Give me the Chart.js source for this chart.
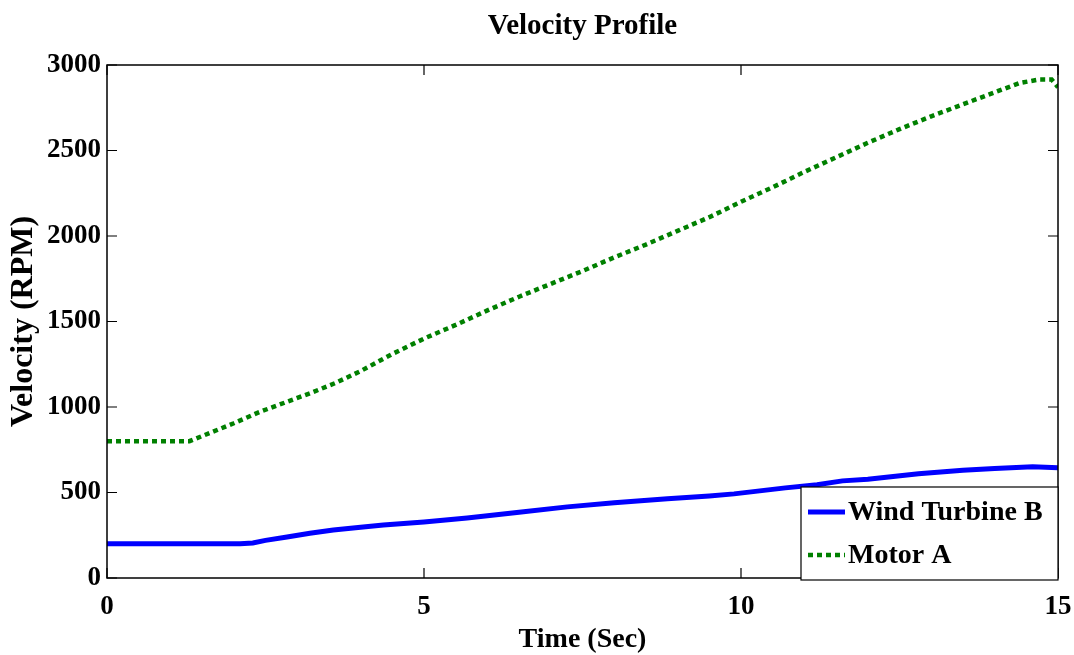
<!DOCTYPE html>
<html>
<head>
<meta charset="utf-8">
<script src="https://cdn.jsdelivr.net/npm/chart.js@4.4.0/dist/chart.umd.min.js"></script>
<style>
  body { margin: 0; background: #fff; }
  #wrap { width: 1074px; height: 655px; }
</style>
</head>
<body>
<div id="wrap"><canvas id="myChart"></canvas></div>
<script>
// values
const timeB = [0, 1, 2.1, 2.3, 2.5, 2.84, 3.2, 3.57, 4.0, 4.36, 5.0, 5.68, 6.5, 7.26, 8.0, 8.84, 9.5, 9.89, 10.7, 11.2, 11.6, 12.0, 12.8, 13.5, 14.0, 14.6, 15];
const windTurbineB = [200, 200, 200, 205, 220, 240, 262, 281, 297, 310, 328, 351, 385, 416, 440, 463, 480, 492, 527, 545, 568, 578, 609, 630, 640, 650, 645];

const timeA = [0, 0.5, 1.0, 1.3, 1.5, 1.8, 2.0, 2.4, 2.8, 3.2, 3.6, 4.0, 4.5, 5.0, 5.5, 6.0, 6.5, 7.0, 7.5, 8.0, 8.5, 9.0, 9.5, 10.0, 10.5, 11.0, 11.5, 12.0, 12.5, 13.0, 13.5, 14.0, 14.4, 14.7, 14.9, 15.0];
const motorA = [800, 800, 800, 800, 830, 875, 905, 970, 1025, 1080, 1140, 1210, 1310, 1400, 1480, 1565, 1645, 1720, 1795, 1875, 1950, 2030, 2110, 2200, 2285, 2375, 2460, 2545, 2625, 2700, 2770, 2840, 2895, 2915, 2915, 2870];

const xTicks = [0, 5, 10, 15];
const yTicks = [0, 500, 1000, 1500, 2000, 2500, 3000];

const FONT = '"Liberation Serif", "Times New Roman", serif';

function toPoints(xs, ys) {
  const pts = [];
  for (let i = 0; i < xs.length; i++) pts.push({ x: xs[i], y: ys[i] });
  return pts;
}

// matlab style box, inward ticks and legend inside the axes
const boxPlugin = {
  id: 'boxPlugin',
  afterDatasetsDraw(chart) {
    const { ctx, chartArea } = chart;
    const xs = chart.scales.x, ys = chart.scales.y;
    const L = chartArea.left, R = chartArea.right, T = chartArea.top, B = chartArea.bottom;
    ctx.save();
    ctx.strokeStyle = '#000';
    ctx.lineWidth = 1.5;
    ctx.strokeRect(L, T, R - L, B - T);
    ctx.lineWidth = 1.2;
    ctx.beginPath();
    yTicks.forEach(v => {
      const py = ys.getPixelForValue(v);
      ctx.moveTo(L, py); ctx.lineTo(L + 10, py);
      ctx.moveTo(R, py); ctx.lineTo(R - 10, py);
    });
    xTicks.forEach(v => {
      const px = xs.getPixelForValue(v);
      ctx.moveTo(px, B); ctx.lineTo(px, B - 10);
      ctx.moveTo(px, T); ctx.lineTo(px, T + 10);
    });
    ctx.stroke();

    // legend
    const w = 257, h = 93;
    const x0 = R - w, y0 = B + 2 - h;
    ctx.fillStyle = '#fff';
    ctx.fillRect(x0, y0, w, h);
    ctx.lineWidth = 1.2;
    ctx.strokeRect(x0, y0, w, h);
    chart.data.datasets.forEach((ds, i) => {
      const cy = y0 + 25 + i * 43;
      ctx.beginPath();
      ctx.strokeStyle = ds.borderColor;
      ctx.lineWidth = ds.borderWidth;
      ctx.setLineDash(ds.borderDash || []);
      ctx.moveTo(x0 + 7, cy);
      ctx.lineTo(x0 + 44, cy);
      ctx.stroke();
      ctx.setLineDash([]);
      ctx.fillStyle = '#000';
      ctx.font = 'bold 28px ' + FONT;
      ctx.textBaseline = 'middle';
      ctx.textAlign = 'left';
      ctx.fillText(ds.label, x0 + 47, cy + 1);
    });
    ctx.restore();
  }
};

const data = {
  datasets: [{
    label: 'Wind Turbine B',
    data: toPoints(timeB, windTurbineB),
    borderColor: '#0000ff',
    borderWidth: 5,
    pointRadius: 0,
    tension: 0
  }, {
    label: 'Motor A',
    data: toPoints(timeA, motorA),
    borderColor: '#008000',
    borderWidth: 4.5,
    borderDash: [5, 4],
    pointRadius: 0,
    tension: 0
  }]
};

const config = {
  type: 'line',
  data,
  options: {
    responsive: true,
    maintainAspectRatio: false,
    animation: false,
    layout: { padding: { left: 0, right: 16, top: 0, bottom: 0 } },
    plugins: {
      legend: { display: false },
      tooltip: { enabled: false },
      title: { display: false }
    },
    scales: {
      x: {
        type: 'linear',
        min: 0,
        max: 15,
        afterBuildTicks: s => { s.ticks = xTicks.map(v => ({ value: v })); },
        afterFit: s => { s.height = 77; s.paddingRight = 4; s.paddingLeft = 4; },
        grid: { display: false, drawTicks: false },
        border: { display: false },
        ticks: {
          autoSkip: false,
          maxRotation: 0,
          padding: 13,
          color: '#000',
          callback: v => String(v),
          font: { family: FONT, size: 27, weight: 'bold' }
        },
        title: {
          display: true,
          text: 'Time (Sec)',
          color: '#000',
          font: { family: FONT, size: 28, weight: 'bold', lineHeight: 1 },
          padding: { top: 0, bottom: 1 }
        }
      },
      top: {
        type: 'linear',
        position: 'top',
        display: true,
        min: 0,
        max: 15,
        afterFit: s => { s.height = 65; s.paddingRight = 0; s.paddingLeft = 0; },
        grid: { display: false, drawTicks: false },
        border: { display: false },
        ticks: { display: false },
        title: {
          display: true,
          text: 'Velocity Profile',
          color: '#000',
          font: { family: FONT, size: 29, weight: 'bold', lineHeight: 1 },
          padding: { top: 12, bottom: 0 }
        }
      },
      y: {
        type: 'linear',
        min: 0,
        max: 3000,
        afterBuildTicks: s => { s.ticks = yTicks.map(v => ({ value: v })); },
        afterFit: s => { s.width = 107; },
        grid: { display: false, drawTicks: false },
        border: { display: false },
        ticks: {
          padding: 6,
          color: '#000',
          callback: v => String(v),
          font: { family: FONT, size: 27, weight: 'bold' }
        },
        title: {
          display: true,
          text: 'Velocity (RPM)',
          color: '#000',
          font: { family: FONT, size: 32, weight: 'bold', lineHeight: 1 },
          padding: { top: 8, bottom: 0 }
        }
      }
    }
  },
  plugins: [boxPlugin]
};

const myChart = new Chart(document.getElementById('myChart'), config);
</script>
</body>
</html>
